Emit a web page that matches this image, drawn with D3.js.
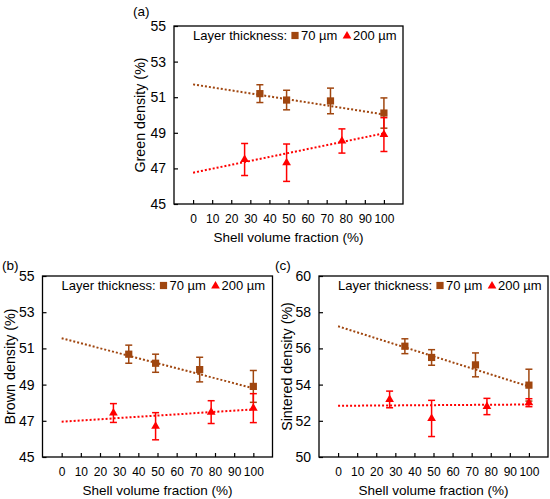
<!DOCTYPE html>
<html>
<head>
<meta charset="UTF-8">
<title>Density vs shell volume fraction</title>
<script src="https://cdn.jsdelivr.net/npm/d3@7/dist/d3.min.js"></script>
<style>
  body { margin: 0; background: #fff; }
  svg { display: block; font-family: "Liberation Sans", Arial, sans-serif; }
  .tick-y { font-size: 14px; }
  .tick-x { font-size: 12px; }
  .title { font-size: 13.5px; }
  .ytitle { font-size: 14.3px; }
  .legend { font-size: 13px; }
</style>
</head>
<body>
<svg id="chart" width="550" height="499"></svg>
<script>
// shell volume fractions (%)
const x70 = [35, 49, 72, 100];
const x200 = [27, 49, 78, 100];
const xTicks = [0, 10, 20, 30, 40, 50, 60, 70, 80, 90, 100];
const trendX = [0, 100];

// (a) green density
const green70 = [51.2, 50.84, 50.79, 50.11];
const green70Err = [0.5, 0.55, 0.72, 0.85];
const green200 = [47.5, 47.32, 48.54, 48.9];
const green200Err = [0.9, 1.05, 0.68, 0.95];
const greenTrend70 = [51.72, 50.03];
const greenTrend200 = [46.76, 48.97];

// (b) brown density
const brown70 = [50.68, 50.18, 49.83, 48.9];
const brown70Err = [0.5, 0.5, 0.68, 0.88];
const brown200 = [47.43, 46.7, 47.48, 47.7];
const brown200Err = [0.52, 0.75, 0.63, 0.8];
const brownTrend70 = [51.56, 48.8];
const brownTrend200 = [46.95, 47.63];

// (c) sintered density
const sint70 = [56.12, 55.5, 55.09, 53.97];
const sint70Err = [0.41, 0.43, 0.66, 0.88];
const sint200 = [53.18, 52.13, 52.79, 53.0];
const sint200Err = [0.46, 1.0, 0.45, 0.22];
const sintTrend70 = [57.22, 53.9];
const sintTrend200 = [52.83, 52.9];

const legendLabels = ["Layer thickness:", "70 µm", "200 µm"];
const BROWN = "#a0460f", RED = "#ff0000";

const panels = [
  { tag: "(a)", ytitle: "Green density (%)", left: 174, top: 26, w: 229, h: 178,
    ydom: [45, 55], yticks: [45, 47, 49, 51, 53, 55],
    s70: green70, e70: green70Err, s200: green200, e200: green200Err,
    t70: greenTrend70, t200: greenTrend200, tagX: 133, tagY: 16, titleX: 140 },
  { tag: "(b)", ytitle: "Brown density (%)", left: 42.5, top: 276, w: 230, h: 181,
    ydom: [45, 55], yticks: [45, 47, 49, 51, 53, 55],
    s70: brown70, e70: brown70Err, s200: brown200, e200: brown200Err,
    t70: brownTrend70, t200: brownTrend200, tagX: 2, tagY: 270, titleX: 10 },
  { tag: "(c)", ytitle: "Sintered density (%)", left: 319, top: 276, w: 229, h: 181,
    ydom: [50, 60], yticks: [50, 52, 54, 56, 58, 60],
    s70: sint70, e70: sint70Err, s200: sint200, e200: sint200Err,
    t70: sintTrend70, t200: sintTrend200, tagX: 275, tagY: 270, titleX: 287 }
];

const svg = d3.select("#chart");
svg.append("rect").attr("width", 550).attr("height", 499).attr("fill", "#fff");

const square = d3.symbol().type(d3.symbolSquare).size(52);
const triangle = d3.symbol().type(d3.symbolTriangle).size(33);

panels.forEach(p => {
  const g = svg.append("g").attr("transform", `translate(${p.left},${p.top})`);
  const x = d3.scaleLinear().domain([-10, 110]).range([0, p.w]);
  const y = d3.scaleLinear().domain(p.ydom).range([p.h, 0]);

  // frame
  g.append("rect").attr("width", p.w).attr("height", p.h)
    .attr("fill", "none").attr("stroke", "#000").attr("stroke-width", 1.3);

  // y axis: inward ticks, labels outside
  const yAxis = g.append("g").attr("class", "tick-y")
    .call(d3.axisLeft(y).tickValues(p.yticks).tickSize(-4).tickPadding(8));
  yAxis.select(".domain").remove();
  yAxis.selectAll("line").attr("stroke", "#000").attr("stroke-width", 1.2);
  yAxis.selectAll("text").attr("fill", "#000");
  yAxis.attr("font-size", null).attr("font-family", null);

  const xAxis = g.append("g").attr("class", "tick-x")
    .attr("transform", `translate(0,${p.h})`)
    .call(d3.axisBottom(x).tickValues(xTicks).tickSize(-4).tickPadding(10));
  xAxis.select(".domain").remove();
  xAxis.selectAll("line").attr("stroke", "#000").attr("stroke-width", 1.2);
  xAxis.selectAll("text").attr("fill", "#000");
  xAxis.attr("font-size", null).attr("font-family", null);

  // trend lines
  const line = d3.line().x((d, i) => x(trendX[i])).y(d => y(d));
  g.append("path").datum(p.t70).attr("d", line)
    .attr("fill", "none").attr("stroke", BROWN).attr("stroke-width", 2)
    .attr("stroke-dasharray", "2,2");
  g.append("path").datum(p.t200).attr("d", line)
    .attr("fill", "none").attr("stroke", RED).attr("stroke-width", 2)
    .attr("stroke-dasharray", "2,2");

  // error bars + markers
  function series(xs, vals, errs, color, sym) {
    const s = g.append("g");
    xs.forEach((xv, i) => {
      const cx = x(xv), lo = y(vals[i] - errs[i]), hi = y(vals[i] + errs[i]);
      s.append("line").attr("x1", cx).attr("x2", cx).attr("y1", lo).attr("y2", hi)
        .attr("stroke", color).attr("stroke-width", 1.5);
      [lo, hi].forEach(yy => s.append("line")
        .attr("x1", cx - 3.5).attr("x2", cx + 3.5).attr("y1", yy).attr("y2", yy)
        .attr("stroke", color).attr("stroke-width", 1.5));
      s.append("path").attr("d", sym())
        .attr("transform", `translate(${cx},${y(vals[i])})`)
        .attr("fill", color);
    });
  }
  series(x70, p.s70, p.e70, BROWN, square);
  series(x200, p.s200, p.e200, RED, triangle);

  // legend
  const lg = g.append("g").attr("class", "legend").attr("transform", "translate(0,14)");
  lg.append("text").attr("x", 113).attr("y", 0).attr("text-anchor", "end").text(legendLabels[0]);
  lg.append("path").attr("d", square()).attr("transform", "translate(121,-4.5)").attr("fill", BROWN);
  lg.append("text").attr("x", 127).attr("y", 0).text(legendLabels[1]);
  lg.append("path").attr("d", triangle()).attr("transform", "translate(173,-4)").attr("fill", RED);
  lg.append("text").attr("x", 179).attr("y", 0).text(legendLabels[2]);

  // titles
  svg.append("text").attr("class", "title").attr("x", p.left + p.w / 2)
    .attr("y", p.top + p.h + 38).attr("text-anchor", "middle")
    .text("Shell volume fraction (%)");
  svg.append("text").attr("class", "ytitle")
    .attr("transform", `translate(${p.titleX},${p.top + p.h / 2}) rotate(-90)`)
    .attr("text-anchor", "middle").attr("dy", "0.35em").text(p.ytitle);
  svg.append("text").attr("class", "title").attr("x", p.tagX).attr("y", p.tagY).text(p.tag);
});
</script>
</body>
</html>
